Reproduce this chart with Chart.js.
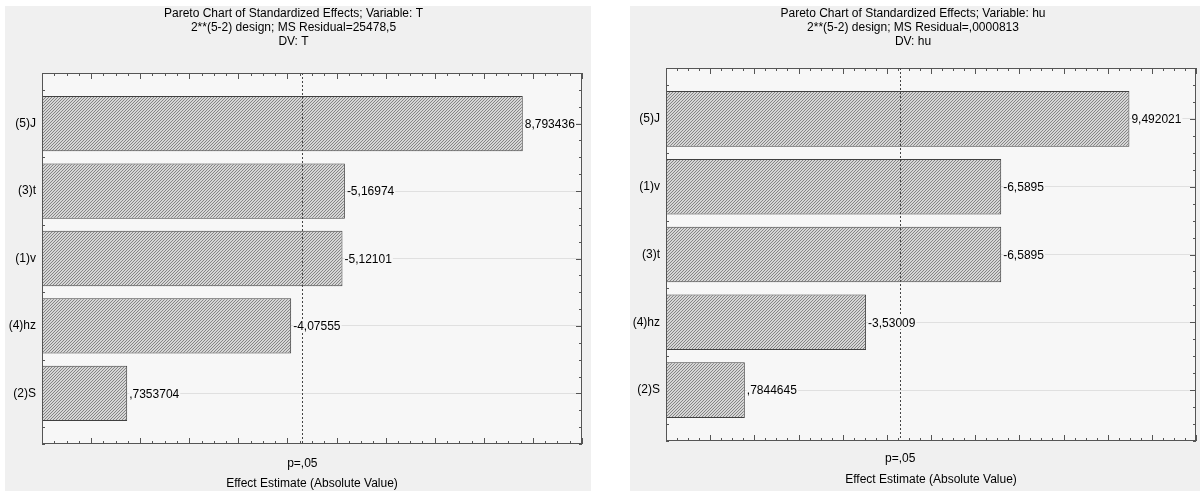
<!DOCTYPE html>
<html>
<head>
<meta charset="utf-8">
<title>Pareto Charts of Standardized Effects</title>
<script src="https://cdn.jsdelivr.net/npm/chart.js@4.4.1/dist/chart.umd.min.js"></script>
<style>
  body { margin: 0; background: #fff; width: 1200px; height: 491px; overflow: hidden; position: relative; }
  .panel { position: absolute; top: 6px; height: 485px; background: #f0f0f0; }
  #panel-left { left: 5px; width: 586px; }
  #panel-right { left: 630px; width: 570px; }
</style>
</head>
<body>
<div class="panel" id="panel-left"><canvas id="chartLeft" width="586" height="485"></canvas></div>
<div class="panel" id="panel-right"><canvas id="chartRight" width="570" height="485"></canvas></div>
<script>
// left chart, variable T
const leftTitle = ['Pareto Chart of Standardized Effects; Variable: T', '2**(5-2) design; MS Residual=25478,5', 'DV: T'];
const leftFactors = ['(5)J', '(3)t', '(1)v', '(4)hz', '(2)S'];
const leftEffects = [8.793436, -5.16974, -5.12101, -4.07555, 0.7353704];
const leftRange = [-1, 10];

// right chart, variable hu
const rightTitle = ['Pareto Chart of Standardized Effects; Variable: hu', '2**(5-2) design; MS Residual=,0000813', 'DV: hu'];
const rightFactors = ['(5)J', '(1)v', '(3)t', '(4)hz', '(2)S'];
const rightEffects = [9.492021, -6.5895, -6.5895, -3.53009, 0.7844645];
const rightRange = [-1, 11];

// t critical value, p=.05 with 2 residual df
const pCritical = 4.302653;
const pLabel = 'p=,05';
const xAxisTitle = 'Effect Estimate (Absolute Value)';

Chart.defaults.font.family = '"Liberation Sans", Arial, sans-serif';
Chart.defaults.font.size = 12;
Chart.defaults.color = '#000';

// statistica style number: 7 significant digits, comma, no leading zero
function formatEffect(v) {
    let s = v.toPrecision(7);
    if (s.indexOf('.') >= 0) s = s.replace(/0+$/, '').replace(/\.$/, '');
    s = s.replace('.', ',');
    return s.replace(/^(-?)0,/, '$1,');
}

function makeHatch(ctx) {
    const c = document.createElement('canvas');
    c.width = 3;
    c.height = 3;
    const g = c.getContext('2d');
    g.fillStyle = '#d6d6d6';
    g.fillRect(0, 0, 3, 3);
    g.fillStyle = '#858585';
    for (let i = 0; i < 3; i++) g.fillRect(2 - i, i, 1, 1);
    return ctx.createPattern(c, 'repeat');
}

const statFrame = {
    id: 'statFrame',
    beforeDraw(chart) {
        const {ctx, chartArea: a} = chart;
        ctx.save();
        ctx.fillStyle = '#f7f7f7';
        ctx.fillRect(a.left, a.top, a.right - a.left, a.bottom - a.top);
        ctx.restore();
    },
    beforeDatasetsDraw(chart) {
        // inward tick marks on all four sides, bars cover the left ones
        const {ctx, chartArea: a, scales: {x, y}} = chart;
        ctx.save();
        ctx.strokeStyle = '#555';
        ctx.lineWidth = 1;
        ctx.beginPath();
        for (let v = x.min; v <= x.max; v += 0.25) {
            const px = Math.round(x.getPixelForValue(v)) + 0.5;
            const len = Number.isInteger(v) ? 6 : 3;
            ctx.moveTo(px, a.bottom); ctx.lineTo(px, a.bottom - len);
            ctx.moveTo(px, a.top); ctx.lineTo(px, a.top + len);
        }
        for (let v = y.min; v <= y.max; v += 0.25) {
            const py = Math.round(y.getPixelForValue(v)) + 0.5;
            const len = Number.isInteger(v) ? 6 : 3;
            ctx.moveTo(a.left, py); ctx.lineTo(a.left + len, py);
            ctx.moveTo(a.right, py); ctx.lineTo(a.right - len, py);
        }
        ctx.stroke();
        ctx.restore();
    },
    afterDatasetsDraw(chart, args, opts) {
        const {ctx, chartArea: a, scales: {x}} = chart;
        ctx.save();
        // p=.05 line
        const px = Math.round(x.getPixelForValue(pCritical)) + 0.5;
        ctx.strokeStyle = '#444';
        ctx.lineWidth = 1;
        ctx.setLineDash([2, 2]);
        ctx.beginPath();
        ctx.moveTo(px, a.top);
        ctx.lineTo(px, a.bottom);
        ctx.stroke();
        ctx.setLineDash([]);

        // value labels next to bars
        ctx.font = '12px "Liberation Sans", Arial, sans-serif';
        ctx.textBaseline = 'middle';
        chart.getDatasetMeta(0).data.forEach((bar, i) => {
            const text = opts.labels[i];
            const w = ctx.measureText(text).width;
            const tx = bar.x + 2;
            ctx.fillStyle = '#f7f7f7';
            ctx.fillRect(tx, bar.y - 7, w + 1, 14);
            ctx.fillStyle = '#000';
            ctx.fillText(text, tx, bar.y + 1);
        });

        // plot frame
        ctx.strokeStyle = '#555';
        ctx.strokeRect(Math.round(a.left) + 0.5, Math.round(a.top) + 0.5,
            Math.round(a.right - a.left) - 1, Math.round(a.bottom - a.top) - 1);
        ctx.restore();
    }
};

function buildChart(canvasId, title, factors, effects, range, layout) {
    const ctx = document.getElementById(canvasId).getContext('2d');
    const positions = factors.map((f, i) => i + 1);

    return new Chart(ctx, {
        type: 'bar',
        data: {
            datasets: [{
                data: effects.map((e, i) => ({x: Math.abs(e), y: positions[i]})),
                base: range[0],
                backgroundColor: makeHatch(ctx),
                borderColor: '#404040',
                borderWidth: 1,
                borderSkipped: false,
                barPercentage: 0.82,
                categoryPercentage: 1
            }]
        },
        options: {
            indexAxis: 'y',
            responsive: false,
            animation: false,
            events: [],
            layout: {padding: {right: layout.padRight}},
            plugins: {
                legend: {display: false},
                tooltip: {enabled: false},
                title: {
                    display: true,
                    text: title,
                    color: '#000',
                    font: {size: 12, weight: 'normal', lineHeight: 1.1667},
                    padding: {top: 1, bottom: layout.titleGap}
                },
                statFrame: {labels: effects.map(formatEffect)}
            },
            scales: {
                x: {
                    type: 'linear',
                    min: range[0],
                    max: range[1],
                    grid: {display: false},
                    border: {display: false},
                    afterBuildTicks: s => { s.ticks = [{value: pCritical}]; },
                    afterFit: s => { s.height = layout.xAxisHeight; },
                    ticks: {callback: () => pLabel, padding: layout.pPad, maxRotation: 0, autoSkip: false},
                    title: {
                        display: true,
                        text: xAxisTitle,
                        font: {size: 12},
                        padding: {top: 0, bottom: layout.xTitlePad}
                    }
                },
                y: {
                    type: 'linear',
                    reverse: true,
                    offset: false,
                    min: 0.25,
                    max: factors.length + 0.75,
                    afterBuildTicks: s => { s.ticks = positions.map(p => ({value: p})); },
                    afterFit: s => { s.width = layout.yAxisWidth; },
                    ticks: {callback: v => factors[v - 1], padding: 6, autoSkip: false},
                    grid: {color: '#e0e0e0', drawTicks: false, offset: false},
                    border: {display: false}
                }
            }
        },
        plugins: [statFrame]
    });
}

document.addEventListener('DOMContentLoaded', function () {
    buildChart('chartLeft', leftTitle, leftFactors, leftEffects, leftRange,
        {padRight: 9, titleGap: 24, xAxisHeight: 47, pPad: 4, xTitlePad: 0, yAxisWidth: 37});
    buildChart('chartRight', rightTitle, rightFactors, rightEffects, rightRange,
        {padRight: 4, titleGap: 19, xAxisHeight: 50, pPad: 2, xTitlePad: 4, yAxisWidth: 36});
});
</script>
</body>
</html>
